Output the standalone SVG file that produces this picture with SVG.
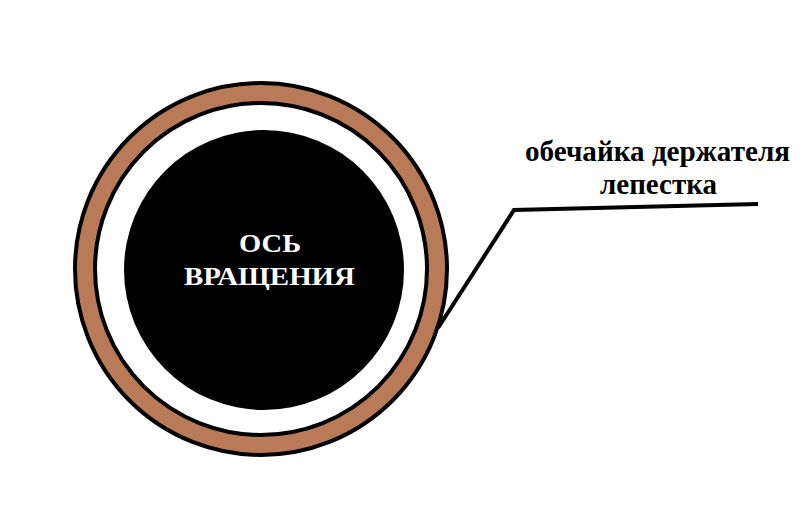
<svg xmlns="http://www.w3.org/2000/svg" width="808" height="523" viewBox="0 0 808 523">
<style>
.lbl{font-family:"Liberation Serif","Times New Roman",serif;font-weight:bold;text-anchor:middle}
.ring{stroke:#000;stroke-width:4}
</style>
<rect width="808" height="523" fill="#fff"/>
<g id="shell">
<circle class="ring" cx="261" cy="269" r="186" fill="#b97b57"/>
<circle class="ring" cx="261" cy="269" r="166" fill="#fff"/>
</g>
<g id="axis">
<circle cx="264" cy="270" r="140" fill="#000"/>
<text class="lbl" x="270" y="251.5" font-size="25" fill="#fff" textLength="62" lengthAdjust="spacingAndGlyphs">ОСЬ</text>
<text class="lbl" x="269.5" y="284.5" font-size="25" fill="#fff" textLength="171" lengthAdjust="spacingAndGlyphs">ВРАЩЕНИЯ</text>
</g>
<g id="connectors">
<polyline points="438,328 514,210 758,204" fill="none" stroke="#000" stroke-width="4"/>
</g>
<g id="label">
<text class="lbl" x="657.5" y="161.3" font-size="29.5" fill="#000" textLength="265" lengthAdjust="spacingAndGlyphs">обечайка держателя</text>
<text class="lbl" x="658.5" y="194" font-size="29.5" fill="#000" textLength="117" lengthAdjust="spacingAndGlyphs">лепестка</text>
</g>
</svg>
